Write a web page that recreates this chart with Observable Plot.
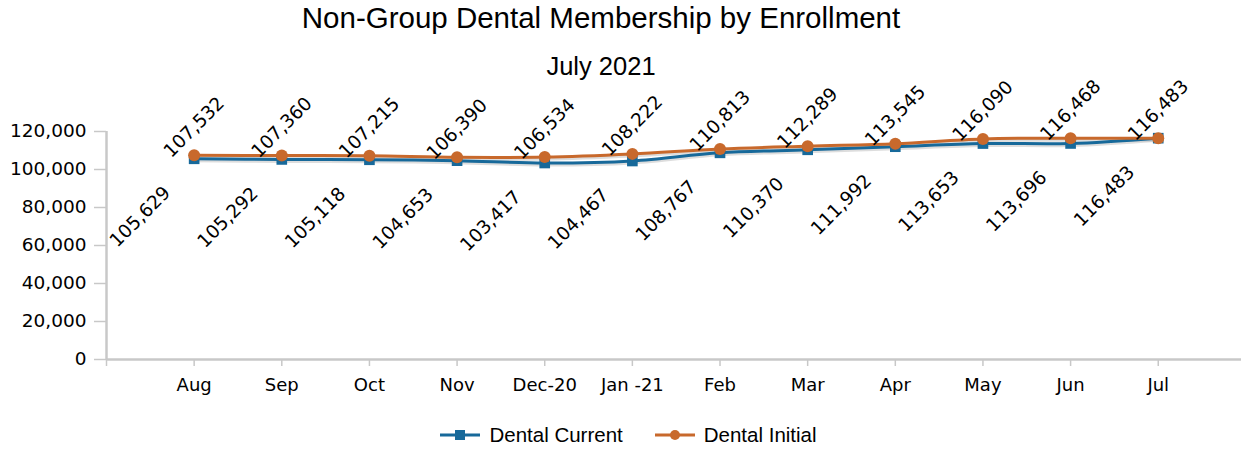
<!DOCTYPE html>
<html>
<head>
<meta charset="utf-8">
<script src="https://cdn.jsdelivr.net/npm/d3@7"></script>
<script src="https://cdn.jsdelivr.net/npm/@observablehq/plot@0.6"></script>
<style>
  html, body { margin: 0; padding: 0; background: #fff; }
  body { width: 1241px; height: 450px; position: relative; overflow: hidden; }
  #title { position: absolute; left: 0; top: 0; width: 1202px; text-align: center;
    font-family: "Liberation Sans", Arial, sans-serif; font-size: 29.5px; line-height: 36px; color: #000; }
  #subtitle { position: absolute; left: 0; top: 51px; width: 1202px; text-align: center;
    font-family: "Liberation Sans", Arial, sans-serif; font-size: 25.5px; line-height: 30px; color: #000; }
  #chart { position: absolute; left: 0; top: 0; }
  #chart svg { overflow: visible; }
  #legend { position: absolute; left: 0; top: 422px; width: 1257px; display: flex; justify-content: center; gap: 32px;
    font-family: "Liberation Sans", Arial, sans-serif; font-size: 20.5px; line-height: 26px; color: #000; }
  .item { display: flex; align-items: center; gap: 9px; }
</style>
</head>
<body>
<div id="chart"></div>
<div id="title">Non-Group Dental Membership by Enrollment</div>
<div id="subtitle">July 2021</div>
<div id="legend"></div>
<script>
const months = ["Aug", "Sep", "Oct", "Nov", "Dec-20", "Jan -21", "Feb", "Mar", "Apr", "May", "Jun", "Jul"];
const dentalCurrent = [105629, 105292, 105118, 104653, 103417, 104467, 108767, 110370, 111992, 113653, 113696, 116483];
const dentalInitial = [107532, 107360, 107215, 106390, 106534, 108222, 110813, 112289, 113545, 116090, 116468, 116483];
const yTicks = [0, 20000, 40000, 60000, 80000, 100000, 120000];

const blue = "#17699a";
const orange = "#c8692c";
const axisGray = "#c8c8c8";
const fmt = d3.format(",");

const current = months.map((m, i) => ({i: i + 1, month: m, value: dentalCurrent[i]}));
const initial = months.map((m, i) => ({i: i + 1, month: m, value: dentalInitial[i]}));
const xTicks = d3.range(0, months.length + 1);

const plot = Plot.plot({
  width: 1241,
  height: 410,
  marginLeft: 106,
  marginRight: 0,
  marginTop: 131,
  marginBottom: 51,
  style: {fontFamily: "DejaVu Sans, sans-serif", fontSize: "18px", color: "#000", background: "transparent"},
  x: {type: "linear", domain: [0, 12.95]},
  y: {domain: [0, 120000]},
  marks: [
    Plot.axisY({ticks: yTicks, tickFormat: fmt, tickSize: 12, tickPadding: 8, stroke: axisGray, strokeWidth: 1.5, fill: "#000", fontSize: 18.5, label: null}),
    Plot.axisX({ticks: xTicks, tickFormat: d => d >= 1 ? months[d - 1] : "", tickSize: 7, tickPadding: 12, stroke: axisGray, strokeWidth: 1.5, fill: "#000", fontSize: 18, label: null}),
    Plot.ruleY([0], {stroke: axisGray, strokeWidth: 2.5}),
    Plot.ruleX([0], {stroke: axisGray, strokeWidth: 2.5}),
    Plot.line(current, {x: "i", y: "value", stroke: "#bbb", strokeWidth: 3, curve: "catmull-rom", dy: 2, strokeOpacity: 0.5}),
    Plot.line(initial, {x: "i", y: "value", stroke: "#bbb", strokeWidth: 3, curve: "catmull-rom", dy: 2, strokeOpacity: 0.5}),
    Plot.line(current, {x: "i", y: "value", stroke: blue, strokeWidth: 3, curve: "catmull-rom"}),
    Plot.dot(current, {x: "i", y: "value", symbol: "square", r: 6, fill: blue, stroke: "none"}),
    Plot.line(initial, {x: "i", y: "value", stroke: orange, strokeWidth: 3, curve: "catmull-rom"}),
    Plot.dot(initial, {x: "i", y: "value", symbol: "circle", r: 6, fill: orange, stroke: "none"}),
    Plot.text(current, {x: "i", y: "value", text: d => fmt(d.value), rotate: -45, dx: -54, dy: 58, fontSize: 18.5, fill: "#000", textAnchor: "middle", lineAnchor: "middle"}),
    Plot.text(initial, {x: "i", y: "value", text: d => fmt(d.value), rotate: -45, dx: 0, dy: -28, fontSize: 18.5, fill: "#000", textAnchor: "middle", lineAnchor: "middle"})
  ]
});
document.getElementById("chart").appendChild(plot);

const series = [
  {name: "Dental Current", color: blue, symbol: "square"},
  {name: "Dental Initial", color: orange, symbol: "circle"}
];
const legend = document.getElementById("legend");
for (const s of series) {
  const item = document.createElement("div");
  item.className = "item";
  const marker = s.symbol === "square"
    ? `<rect x="15" y="6" width="10" height="10" fill="${s.color}"/>`
    : `<circle cx="20" cy="11" r="5" fill="${s.color}"/>`;
  item.innerHTML = `<svg width="40" height="22"><line x1="0" x2="40" y1="11" y2="11" stroke="${s.color}" stroke-width="3"/>${marker}</svg><span>${s.name}</span>`;
  legend.appendChild(item);
}
</script>
</body>
</html>
